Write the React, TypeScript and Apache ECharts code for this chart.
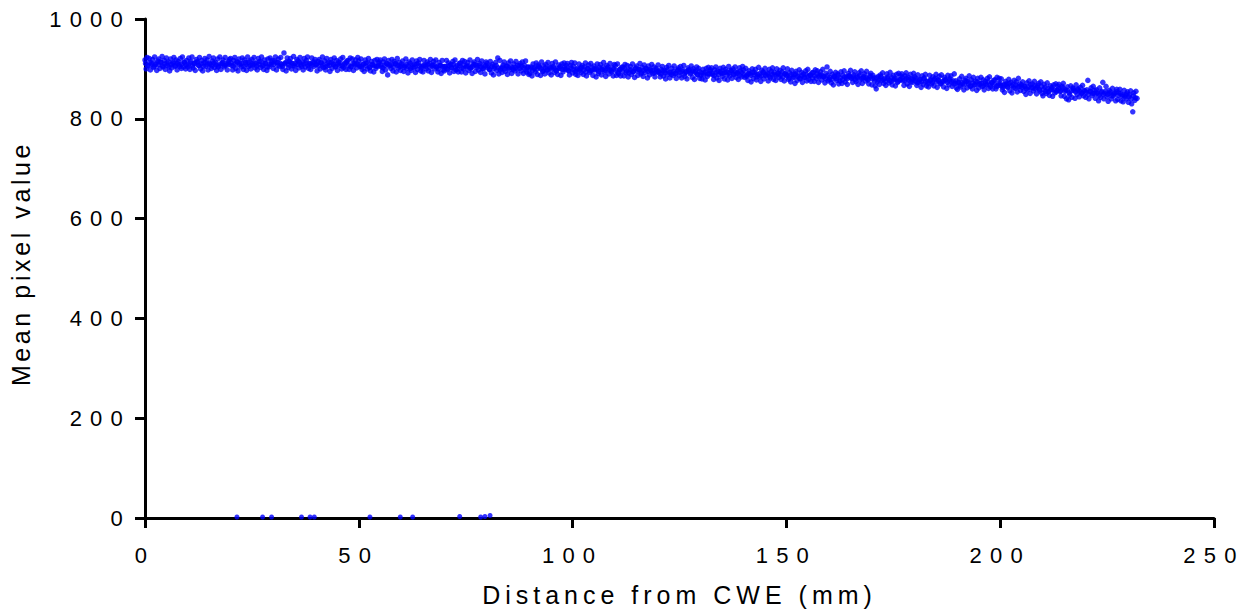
import React, { useEffect, useRef } from "react";
import * as echarts from "echarts";

// ---- data ----
const X_STEP = 0.25; // mm between consecutive profile samples (spread samples)
const MID_STEP = 0.5; // mm between consecutive profile samples (core samples)
const MID_OFFSET = 0.125;

const seg000 = [918, 900, 923, 906, 921, 898, 912, 919, 903, 924, 909, 897, 916, 920, 901, 913, 925, 904, 917, 899, 922, 907, 914, 896, 920, 902, 911, 923, 905, 918, 898, 915, 908, 921, 901, 924, 904, 913, 900, 917];
const seg010 = [904, 922, 899, 915, 924, 902, 911, 897, 919, 914, 907, 923, 900, 917, 896, 912, 921, 905, 918, 898, 925, 909, 901, 916, 922, 903, 913, 897, 920, 906, 924, 899, 910, 918, 904, 923, 908, 898, 915, 919];
const seg020 = [921, 907, 898, 917, 923, 901, 914, 896, 920, 911, 904, 922, 899, 918, 913, 897, 924, 905, 916, 900, 919, 908, 923, 902, 912, 898, 921, 915, 903, 924, 906, 899, 918, 911, 897, 920, 904, 922, 909, 917];
const seg030 = [901, 916, 924, 898, 913, 920, 905, 923, 909, 899, 932, 912, 896, 922, 903, 915, 921, 900, 911, 925, 906, 897, 919, 916, 902, 923, 908, 914, 898, 921, 904, 917, 924, 901, 910, 899, 922, 913, 905, 919];
const seg040 = [908, 896, 915, 919, 900, 912, 924, 903, 916, 898, 921, 906, 913, 895, 919, 901, 910, 922, 904, 917, 897, 914, 907, 920, 900, 923, 903, 912, 899, 916, 917, 899, 922, 905, 920, 897, 911, 918, 902, 923];
const seg050 = [916, 905, 920, 899, 909, 895, 918, 912, 900, 921, 903, 896, 915, 908, 894, 917, 901, 919, 906, 914, 918, 904, 895, 914, 920, 898, 911, 888, 917, 908, 901, 919, 896, 915, 910, 894, 921, 902, 913, 897];
const seg060 = [910, 916, 895, 906, 920, 901, 892, 914, 911, 897, 918, 903, 909, 893, 916, 899, 912, 919, 896, 905, 894, 917, 908, 900, 914, 896, 911, 919, 893, 908, 915, 900, 918, 904, 894, 913, 907, 891, 917, 898];
const seg070 = [896, 905, 917, 899, 912, 892, 909, 902, 915, 895, 918, 898, 907, 894, 911, 912, 894, 917, 900, 915, 892, 906, 913, 897, 918, 903, 891, 910, 914, 895, 907, 919, 898, 911, 893, 916, 901, 908, 890, 914];
const seg080 = [911, 906, 899, 915, 892, 909, 888, 904, 913, 897, 922, 890, 917, 901, 893, 908, 914, 895, 905, 889, 912, 898, 916, 891, 902, 910, 896, 915, 900, 890, 907, 911, 896, 914, 891, 907, 916, 894, 903, 889];
const seg090 = [891, 904, 886, 910, 901, 894, 912, 889, 908, 903, 887, 914, 895, 906, 890, 909, 898, 913, 892, 902, 888, 911, 905, 893, 914, 896, 889, 908, 901, 887, 910, 894, 912, 899, 907, 911, 897, 888, 907, 913];
const seg100 = [892, 905, 912, 889, 898, 887, 910, 901, 893, 907, 889, 904, 912, 886, 901, 908, 893, 911, 897, 887, 906, 900, 884, 910, 891, 903, 909, 888, 899, 913, 894, 885, 907, 904, 890, 911, 896, 902, 886, 909];
const seg110 = [907, 887, 910, 890, 899, 886, 903, 904, 886, 909, 892, 907, 884, 898, 905, 889, 910, 895, 883, 902, 906, 887, 899, 911, 890, 903, 885, 908, 893, 900, 882, 906, 888, 897, 909, 891, 904, 884, 901, 894];
const seg120 = [908, 892, 884, 899, 905, 886, 896, 880, 903, 889, 907, 882, 893, 901, 887, 906, 891, 881, 898, 902, 887, 905, 882, 898, 907, 885, 894, 880, 902, 897, 890, 906, 883, 900, 879, 895, 904, 888, 901, 881];
const seg130 = [887, 880, 899, 892, 878, 901, 885, 903, 890, 898, 902, 888, 879, 898, 904, 882, 895, 877, 901, 892, 885, 903, 880, 899, 894, 878, 905, 886, 897, 881, 900, 889, 904, 883, 893, 879, 902, 896, 884, 905];
const seg140 = [898, 883, 901, 887, 877, 896, 890, 874, 900, 881, 893, 899, 878, 889, 903, 884, 875, 897, 894, 880, 901, 886, 892, 876, 899, 882, 895, 902, 879, 888, 877, 900, 891, 883, 897, 879, 894, 902, 876, 891];
const seg150 = [888, 900, 879, 892, 874, 897, 882, 889, 871, 895, 877, 886, 898, 880, 893, 873, 890, 883, 896, 876, 899, 879, 888, 875, 892, 893, 875, 898, 881, 896, 873, 887, 894, 878, 899, 884, 872, 891, 904, 876];
const seg160 = [879, 895, 872, 889, 868, 884, 893, 877, 890, 870, 876, 894, 871, 887, 896, 874, 883, 869, 891, 886, 897, 881, 873, 888, 894, 875, 885, 869, 892, 878, 896, 871, 882, 890, 876, 895, 880, 870, 887, 891];
const seg170 = [868, 887, 882, 866, 860, 874, 885, 869, 888, 877, 892, 871, 881, 867, 890, 884, 872, 893, 875, 868, 887, 880, 866, 889, 873, 891, 878, 886, 890, 876, 867, 886, 892, 870, 883, 865, 889, 880, 873, 891];
const seg180 = [884, 881, 867, 888, 873, 879, 863, 886, 869, 882, 889, 866, 875, 864, 887, 878, 870, 884, 866, 881, 889, 863, 878, 885, 870, 888, 874, 864, 883, 877, 861, 887, 868, 880, 886, 865, 876, 890, 871, 862];
const seg190 = [859, 873, 880, 864, 885, 870, 858, 877, 881, 862, 874, 886, 865, 878, 860, 883, 868, 875, 857, 881, 862, 871, 883, 865, 878, 858, 875, 868, 881, 861, 884, 864, 873, 860, 877, 878, 860, 883, 866, 881];
const seg200 = [871, 880, 858, 867, 853, 875, 870, 863, 879, 856, 873, 852, 868, 877, 861, 874, 854, 881, 865, 857, 868, 874, 855, 865, 849, 872, 858, 876, 851, 862, 870, 856, 875, 860, 850, 867, 871, 856, 874, 851];
const seg210 = [846, 869, 863, 851, 872, 854, 847, 866, 859, 845, 868, 852, 870, 857, 865, 869, 855, 846, 865, 871, 845, 858, 840, 864, 838, 848, 866, 843, 862, 857, 841, 868, 849, 860, 844, 863, 852, 867, 846, 856];
const seg220 = [843, 858, 877, 840, 855, 862, 847, 865, 851, 841, 858, 852, 836, 862, 843, 855, 873, 840, 851, 865, 844, 835, 857, 854, 840, 861, 846, 852, 836, 859, 839, 852, 859, 836, 845, 834, 857, 848, 840, 854, 833, 848, 856, 830, 814, 852, 837, 855, 841];

// core samples (0.5 mm apart, offset by 0.125 mm)
const mid000 = [911, 907, 913, 909, 905, 912, 908, 914, 906, 910, 912, 904, 909, 913, 907, 911, 905, 910, 914, 908];
const mid010 = [908, 912, 906, 911, 914, 907, 910, 905, 913, 909, 911, 906, 912, 908, 904, 910, 913, 907, 911, 909];
const mid020 = [912, 906, 910, 914, 908, 911, 905, 909, 913, 907, 910, 912, 906, 909, 915, 908, 911, 904, 910, 913];
const mid030 = [909, 913, 907, 911, 905, 910, 914, 908, 912, 906, 911, 909, 913, 905, 910, 912, 907, 911, 908, 914];
const mid040 = [910, 906, 912, 908, 904, 911, 907, 913, 909, 905, 910, 912, 906, 909, 913, 907, 904, 911, 908, 910];
const mid050 = [908, 904, 910, 906, 912, 903, 909, 907, 905, 911, 908, 902, 907, 910, 906, 909, 904, 911, 907, 905];
const mid060 = [906, 903, 909, 905, 901, 908, 904, 910, 906, 902, 907, 905, 909, 903, 906, 908, 904, 900, 907, 905];
const mid070 = [905, 901, 907, 903, 909, 904, 900, 906, 902, 908, 904, 906, 901, 905, 909, 903, 907, 904, 900, 906];
const mid080 = [903, 899, 905, 901, 907, 902, 898, 904, 900, 906, 902, 904, 899, 903, 907, 901, 905, 902, 898, 904];
const mid090 = [901, 897, 903, 899, 905, 900, 896, 902, 898, 904, 900, 902, 897, 901, 905, 899, 903, 900, 896, 902];
const mid100 = [899, 895, 901, 897, 903, 898, 894, 900, 896, 902, 898, 900, 895, 899, 903, 897, 901, 898, 894, 900];
const mid110 = [897, 893, 899, 895, 901, 896, 892, 898, 894, 900, 896, 898, 893, 897, 901, 895, 899, 896, 892, 898];
const mid120 = [895, 890, 896, 892, 898, 893, 889, 895, 891, 897, 893, 895, 890, 894, 898, 892, 896, 893, 889, 895];
const mid130 = [892, 888, 894, 890, 896, 891, 887, 893, 889, 895, 891, 893, 888, 892, 896, 890, 894, 891, 887, 893];
const mid140 = [889, 885, 891, 887, 893, 888, 884, 890, 886, 892, 888, 890, 885, 889, 893, 887, 891, 888, 884, 890];
const mid150 = [886, 882, 888, 884, 890, 885, 881, 887, 883, 889, 885, 887, 882, 886, 890, 884, 888, 885, 881, 887];
const mid160 = [883, 879, 885, 881, 887, 882, 878, 884, 880, 886, 882, 884, 879, 883, 887, 881, 885, 882, 878, 884];
const mid170 = [880, 876, 882, 878, 884, 879, 875, 881, 877, 883, 878, 880, 875, 879, 883, 877, 881, 878, 874, 880];
const mid180 = [876, 872, 878, 874, 880, 875, 871, 877, 873, 879, 874, 876, 871, 875, 879, 873, 877, 874, 870, 876];
const mid190 = [872, 867, 873, 869, 875, 870, 866, 872, 868, 874, 869, 871, 866, 870, 874, 868, 872, 869, 865, 871];
const mid200 = [867, 863, 869, 865, 871, 866, 862, 868, 864, 870, 863, 865, 860, 864, 868, 862, 866, 863, 859, 865];
const mid210 = [859, 855, 861, 857, 863, 858, 854, 860, 856, 862, 855, 857, 852, 856, 860, 854, 858, 855, 851, 857];
const mid220 = [853, 849, 855, 851, 857, 851, 847, 853, 849, 855, 849, 851, 846, 850, 854, 847, 851, 848, 844, 850, 844, 840, 846, 842, 845];

const segmentStarts = [0, 10, 20, 30, 40, 50, 60, 70, 80, 90, 100, 110, 120, 130, 140, 150, 160, 170, 180, 190, 200, 210, 220];
const segmentValues = [seg000, seg010, seg020, seg030, seg040, seg050, seg060, seg070, seg080, seg090, seg100, seg110, seg120, seg130, seg140, seg150, seg160, seg170, seg180, seg190, seg200, seg210, seg220];
const midValues = [mid000, mid010, mid020, mid030, mid040, mid050, mid060, mid070, mid080, mid090, mid100, mid110, mid120, mid130, mid140, mid150, mid160, mid170, mid180, mid190, mid200, mid210, mid220];

// a few samples sitting on zero
const zeroX = [21.5, 27.5, 29.6, 36.6, 38.6, 39.6, 52.6, 59.7, 62.6, 73.6, 78.5, 79.5, 80.7];
const zeroY = [2, 2, 2, 2, 2, 2, 2, 2, 2, 3, 2, 3, 5];

const xTicks = [0, 50, 100, 150, 200, 250];
const yTicks = [0, 200, 400, 600, 800, 1000];

const X_NAME = "Distance from CWE (mm)";
const Y_NAME = "Mean pixel value";

const FONT = "'Liberation Sans', Arial, sans-serif";

export default function App() {
  const ref = useRef<HTMLDivElement>(null);

  useEffect(() => {
    if (!ref.current) return;
    const chart = echarts.init(ref.current, undefined, { renderer: "svg" });

    const band: number[][] = [];
    segmentStarts.forEach((start, s) => {
      segmentValues[s].forEach((y, i) => band.push([start + i * X_STEP, y]));
      midValues[s].forEach((y, i) => {
        const x = start + MID_OFFSET + i * MID_STEP;
        if (x <= 232) band.push([x, y]);
      });
    });
    band.sort((a, b) => a[0] - b[0]);
    const zeros = zeroX.map((x, i) => [x, zeroY[i]]);

    const axisLine = { show: true, onZero: false, lineStyle: { color: "#000", width: 3 } };
    const axisTick = { show: true, length: 10, lineStyle: { color: "#000", width: 3 } };
    const plain = (v: number) => String(v);

    chart.setOption({
      animation: false,
      backgroundColor: "#fff",
      grid: { left: 144, right: 35, top: 19, bottom: 93, containLabel: false },
      xAxis: {
        type: "value",
        min: xTicks[0],
        max: xTicks[xTicks.length - 1],
        interval: 50,
        axisLine,
        axisTick,
        splitLine: { show: false },
        axisLabel: { color: "#000", fontSize: 22, fontFamily: FONT, margin: 26, formatter: plain },
        name: X_NAME,
        nameLocation: "middle",
        nameGap: 64,
        nameTextStyle: { color: "#000", fontSize: 25, fontFamily: FONT },
      },
      yAxis: {
        type: "value",
        min: yTicks[0],
        max: yTicks[yTicks.length - 1],
        interval: 200,
        axisLine,
        axisTick,
        splitLine: { show: false },
        axisLabel: { color: "#000", fontSize: 22, fontFamily: FONT, margin: 14, formatter: plain },
        name: Y_NAME,
        nameLocation: "middle",
        nameRotate: 90,
        nameGap: 112,
        nameTextStyle: { color: "#000", fontSize: 25, fontFamily: FONT, padding: [0, 0, 0, 10] },
      },
      series: [
        {
          type: "scatter",
          data: band,
          symbol: "circle",
          symbolSize: 5.5,
          itemStyle: { color: "#0000ff" },
          silent: true,
          large: false,
          z: 3,
        },
        {
          type: "scatter",
          data: zeros,
          symbol: "circle",
          symbolSize: 5,
          itemStyle: { color: "#0000ff" },
          silent: true,
          z: 3,
        },
      ],
    });

    const applySpacing = () => {
      const root = ref.current;
      if (!root) return;
      root.querySelectorAll("text").forEach((t) => {
        const txt = t.textContent || "";
        let sp = "8.2";
        if (txt === X_NAME) sp = "5";
        else if (txt === Y_NAME) sp = "3.6";
        if (t.getAttribute("letter-spacing") !== sp) t.setAttribute("letter-spacing", sp);
      });
    };
    applySpacing();
    chart.on("finished", applySpacing);
    const timer = setTimeout(applySpacing, 50);

    return () => {
      clearTimeout(timer);
      chart.dispose();
    };
  }, []);

  return (
    <div
      ref={ref}
      style={{ position: "absolute", left: 0, top: 0, width: 1249, height: 612, background: "#fff" }}
    />
  );
}
